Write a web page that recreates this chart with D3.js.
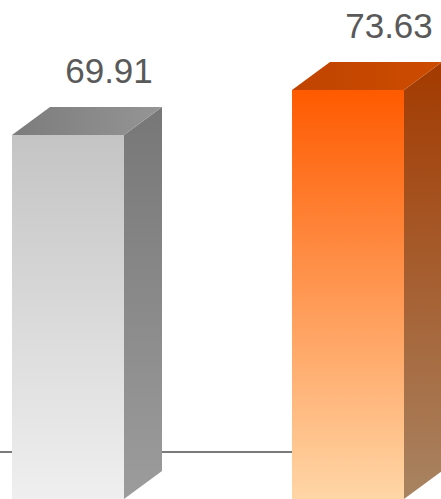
<!DOCTYPE html>
<html>
<head>
<meta charset="utf-8">
<script src="https://cdn.jsdelivr.net/npm/d3@7"></script>
<style>
  html, body { margin: 0; padding: 0; background: #ffffff; }
  svg { display: block; }
</style>
</head>
<body>
<svg id="chart" width="441" height="499"></svg>
<script>
const categories = ["Item 1", "Item 2"];
const values = [69.91, 73.63];
const labels = ["69.91", "73.63"];

const W = 441, H = 499;
const depthX = 38, depthY = 28;

const svg = d3.select("#chart");
const defs = svg.append("defs");

const x = d3.scaleBand().domain(categories).range([12, 404]).paddingInner(0.6).paddingOuter(0);
const y = d3.scaleLinear().domain([39.82, 73.63]).range([499, 90]);

const palettes = [
  { front: ["#c4c4c4", "#efefef"], top: ["#7c7c7c", "#959595"], side: ["#777777", "#9c9c9c"] },
  { front: ["#ff5a00", "#ffd6a6"], top: ["#c04400", "#cc4c00"], side: ["#a33a00", "#a88462"] }
];

palettes.forEach((p, i) => {
  const mk = (id, stops, horiz) => {
    const g = defs.append("linearGradient").attr("id", id)
      .attr("x1", 0).attr("y1", 0).attr("x2", horiz ? 1 : 0).attr("y2", horiz ? 0 : 1);
    g.append("stop").attr("offset", "0%").attr("stop-color", stops[0]);
    g.append("stop").attr("offset", "100%").attr("stop-color", stops[1]);
  };
  mk("front" + i, p.front, false);
  mk("top" + i, p.top, true);
  mk("side" + i, p.side, false);
});

// baseline (behind bars)
svg.append("line")
  .attr("x1", 0).attr("x2", W)
  .attr("y1", 452).attr("y2", 452)
  .attr("stroke", "#7a7a7a").attr("stroke-width", 2);

const bars = svg.selectAll("g.bar").data(values).join("g").attr("class", "bar");

bars.each(function(v, i) {
  const g = d3.select(this);
  const x0 = x(categories[i]);
  const x1 = x0 + x.bandwidth();
  const yt = y(v);
  const yb = y.range()[0];
  // side face
  g.append("path")
    .attr("d", `M${x1},${yt} L${x1 + depthX},${yt - depthY} L${x1 + depthX},${yb - depthY} L${x1},${yb} Z`)
    .attr("fill", `url(#side${i})`);
  // top face
  g.append("path")
    .attr("d", `M${x0},${yt} L${x0 + depthX},${yt - depthY} L${x1 + depthX},${yt - depthY} L${x1},${yt} Z`)
    .attr("fill", `url(#top${i})`);
  // front face
  g.append("rect")
    .attr("x", x0).attr("y", yt)
    .attr("width", x.bandwidth()).attr("height", yb - yt)
    .attr("fill", `url(#front${i})`);
  // label
  g.append("text")
    .attr("x", x0 + depthX + x.bandwidth() / 2 + 3)
    .attr("y", yt - depthY - 24)
    .attr("text-anchor", "middle")
    .attr("font-family", "'Liberation Sans', Arial, sans-serif")
    .attr("font-size", 35)
    .attr("fill", "#595959")
    .text(labels[i]);
});
</script>
</body>
</html>
